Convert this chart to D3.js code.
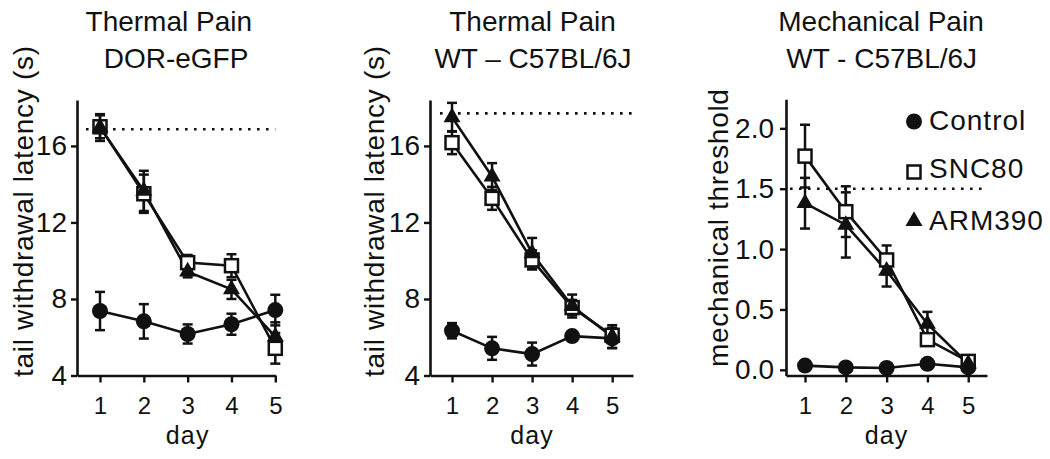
<!DOCTYPE html>
<html><head><meta charset="utf-8">
<script src="https://cdn.jsdelivr.net/npm/d3@7"></script>
<style>
body{margin:0;background:#fff}
svg{display:block}
text{font-family:'Liberation Sans',Arial,Helvetica,sans-serif;fill:#111}
</style>
</head><body><svg id="c" width="1050" height="459"></svg>
<script>
// ---------- data ----------
const days = [1, 2, 3, 4, 5];
const seriesNames = ["Control", "SNC80", "ARM390"];
const titles1 = ["Thermal Pain", "Thermal Pain", "Mechanical Pain"];
const titles2 = ["DOR-eGFP", "WT \u2013 C57BL/6J", "WT - C57BL/6J"];
const yLabels = ["tail withdrawal latency (s)", "tail withdrawal latency (s)", "mechanical threshold"];
const xLabel = "day";
const yTicksLatency = [4, 8, 12, 16];
const yTicksThreshold = [0, 0.5, 1.0, 1.5, 2.0];
const cutoffs = [16.87, 17.7, 1.5];

// Panel 1: Thermal pain, DOR-eGFP
const dorControl    = [7.37, 6.83, 6.17, 6.68, 7.42];
const dorControlErr = [1.0, 0.9, 0.5, 0.55, 0.8];
const dorSNC80      = [17.0, 13.5, 9.9, 9.74, 5.42];
const dorSNC80Err   = [0.6, 1.0, 0.4, 0.6, 0.8];
const dorARM390     = [16.96, 13.65, 9.43, 8.5, 6.03];
const dorARM390Err  = [0.7, 1.05, 0.3, 0.5, 0.75];

// Panel 2: Thermal pain, WT C57BL/6J
const wtControl     = [6.34, 5.42, 5.12, 6.06, 5.94];
const wtControlErr  = [0.4, 0.6, 0.6, 0.2, 0.5];
const wtSNC80       = [16.17, 13.26, 10.04, 7.55, 6.1];
const wtSNC80Err    = [0.6, 0.6, 0.5, 0.4, 0.4];
const wtARM390      = [17.5, 14.4, 10.39, 7.63, 6.03];
const wtARM390Err   = [0.75, 0.7, 0.8, 0.6, 0.6];

// Panel 3: Mechanical pain, WT C57BL/6J
const mechControl    = [0.035, 0.02, 0.015, 0.05, 0.02];
const mechControlErr = [0.01, 0.01, 0.01, 0.02, 0.01];
const mechSNC80      = [1.77, 1.31, 0.91, 0.25, 0.07];
const mechSNC80Err   = [0.26, 0.21, 0.12, 0.05, 0.03];
const mechARM390     = [1.38, 1.2, 0.82, 0.38, 0.05];
const mechARM390Err  = [0.21, 0.27, 0.13, 0.1, 0.03];

// ---------- layout ----------
const INK = "#111";
const panels = [
  { values: [dorControl, dorSNC80, dorARM390], errs: [dorControlErr, dorSNC80Err, dorARM390Err],
    xDomain: [0.475, 5], xRange: [77, 275.3], yDomain: [4, 18.4], yRange: [375.5, 100],
    yTicks: yTicksLatency, fmt: d3.format("d"), cutExt: [0.68, 5.0],
    yLabelX: 33, yLabelY: 377, titleX: [168.8, 176], tickPad: 4 },
  { values: [wtControl, wtSNC80, wtARM390], errs: [wtControlErr, wtSNC80Err, wtARM390Err],
    xDomain: [0.45, 5.52], xRange: [430, 633], yDomain: [4, 18.4], yRange: [375.5, 100],
    yTicks: yTicksLatency, fmt: d3.format("d"), cutExt: [0.7, 5.52],
    yLabelX: 384, yLabelY: 377, titleX: [532.5, 533], tickPad: 4 },
  { values: [mechControl, mechSNC80, mechARM390], errs: [mechControlErr, mechSNC80Err, mechARM390Err],
    xDomain: [0.534, 5.46], xRange: [786, 987], yDomain: [-0.047, 2.2407], yRange: [375.5, 99.3],
    yTicks: yTicksThreshold, fmt: d3.format(".1f"), cutExt: [0.632, 5.485],
    yLabelX: 728, yLabelY: 367, titleX: [881, 881.7], tickPad: 6 }
];

const svg = d3.select("#c");
const triPath = (s) => { const h = s * Math.sqrt(3) / 2;
  return `M0,${-h*2/3}L${s/2},${h/3}L${-s/2},${h/3}Z`; };

function drawMarker(g, kind, cx, cy) {
  if (kind === 0) {
    g.append("circle").attr("cx", cx).attr("cy", cy).attr("r", 8).attr("fill", INK);
  } else if (kind === 1) {
    g.append("rect").attr("x", cx - 6.5).attr("y", cy - 6.5).attr("width", 13).attr("height", 13)
      .attr("fill", "#fff").attr("stroke", INK).attr("stroke-width", 2.5);
  } else {
    g.append("path").attr("d", triPath(17)).attr("transform", `translate(${cx},${cy})`).attr("fill", INK);
  }
}

panels.forEach((p, pi) => {
  const x = d3.scaleLinear().domain(p.xDomain).range(p.xRange);
  const y = d3.scaleLinear().domain(p.yDomain).range(p.yRange);
  const g = svg.append("g");

  // titles
  g.append("text").attr("x", p.titleX[0]).attr("y", 31).attr("text-anchor", "middle")
    .attr("font-size", 28).text(titles1[pi]);
  g.append("text").attr("x", p.titleX[1]).attr("y", 68).attr("text-anchor", "middle")
    .attr("font-size", 28).text(titles2[pi]);

  // axes
  const yAx = g.append("g").attr("transform", `translate(${p.xRange[0]},0)`)
    .call(d3.axisLeft(y).tickValues(p.yTicks).tickFormat(p.fmt).tickSize(6).tickSizeOuter(0).tickPadding(p.tickPad));
  const xAx = g.append("g").attr("transform", `translate(0,${p.yRange[0]})`)
    .call(d3.axisBottom(x).tickValues(days).tickFormat(d3.format("d")).tickSize(7).tickSizeOuter(0).tickPadding(14));
  [yAx, xAx].forEach(a => {
    a.select(".domain").attr("stroke", INK).attr("stroke-width", 2.6);
    a.selectAll(".tick line").attr("stroke", INK).attr("stroke-width", 2.4);
    a.selectAll("text").attr("fill", INK).style("font-family", "'Liberation Sans',Arial,sans-serif");
  });
  yAx.selectAll("text").attr("font-size", 28);
  xAx.selectAll("text").attr("font-size", 24);

  // axis labels
  g.append("text").attr("transform", `translate(${p.yLabelX},${p.yLabelY}) rotate(-90)`)
    .attr("font-size", 28).attr("letter-spacing", 0.7).text(yLabels[pi]);
  g.append("text").attr("x", x(3)).attr("y", 444).attr("text-anchor", "middle")
    .attr("font-size", 25).attr("letter-spacing", 1.2).text(xLabel);

  // cutoff dotted line
  g.append("line").attr("x1", x(p.cutExt[0])).attr("x2", x(p.cutExt[1]))
    .attr("y1", y(cutoffs[pi])).attr("y2", y(cutoffs[pi]))
    .attr("stroke", INK).attr("stroke-width", 2.6).attr("stroke-dasharray", "2.6 6.4");

  // series
  p.values.forEach((vals, si) => {
    const errs = p.errs[si];
    const line = d3.line().x((d, i) => x(days[i])).y(d => y(d));
    g.append("path").datum(vals).attr("d", line).attr("fill", "none")
      .attr("stroke", INK).attr("stroke-width", 2.6);
    vals.forEach((v, i) => {
      const cx = x(days[i]);
      const t = y(v + errs[i]), b = y(v - errs[i]);
      g.append("line").attr("x1", cx).attr("x2", cx).attr("y1", t).attr("y2", b)
        .attr("stroke", INK).attr("stroke-width", 2.5);
      [t, b].forEach(yy => g.append("line").attr("x1", cx - 5).attr("x2", cx + 5)
        .attr("y1", yy).attr("y2", yy).attr("stroke", INK).attr("stroke-width", 2.5));
    });
  });
  p.values.forEach((vals, si) => {
    vals.forEach((v, i) => drawMarker(g, si, x(days[i]), y(v)));
  });
});

// legend
const legendBase = [130, 178, 230];
const legendMarkY = [121.5, 172, 221];
const lg = svg.append("g");
seriesNames.forEach((name, i) => {
  drawMarker(lg, i, 914, legendMarkY[i]);
  lg.append("text").attr("x", 929).attr("y", legendBase[i]).attr("font-size", 28)
    .attr("letter-spacing", 1).text(name);
});
</script>
</body></html>
